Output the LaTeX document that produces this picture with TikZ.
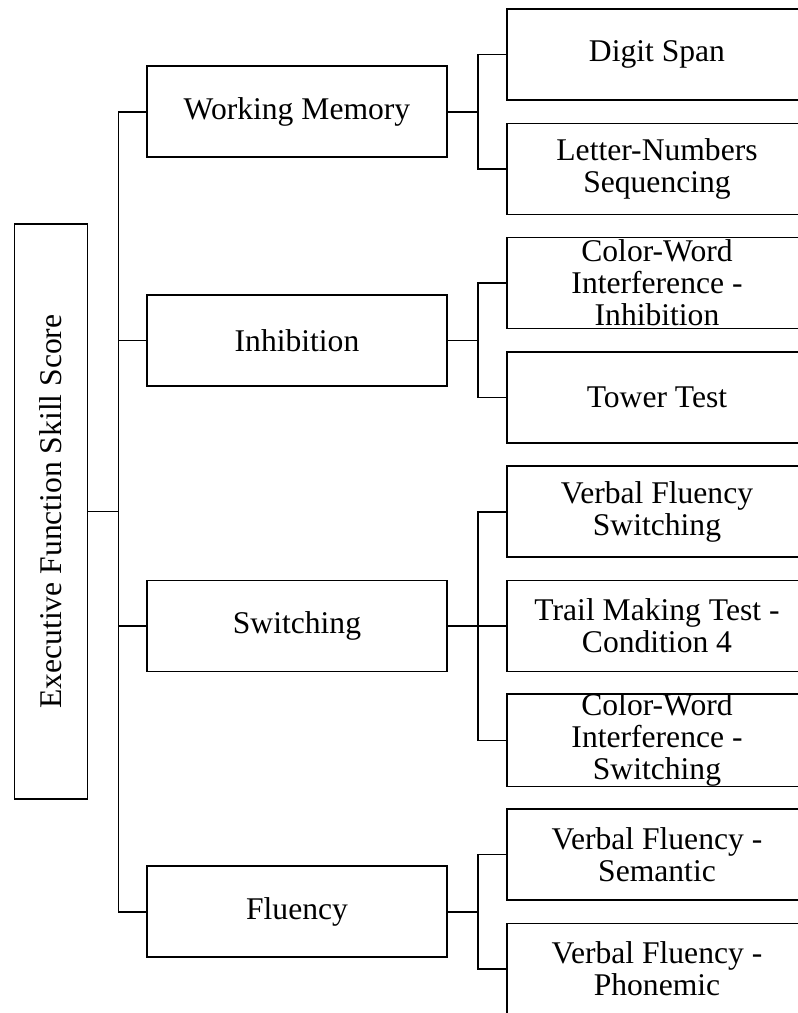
\documentclass[tikz,border=0pt]{standalone}
\usepackage{fontspec}
\setmainfont{Liberation Serif}
\usepackage{graphicx}
\usepackage{tikz}

\tikzset{
	skillbox/.style={draw, line width=1.6pt, rectangle, inner sep=0pt, align=center,
		font=\fontsize{31.6}{32}\selectfont},
	rootbox/.style={skillbox, minimum width=73pt, minimum height=575pt},
	areabox/.style={skillbox, minimum width=300pt, minimum height=91pt},
	testbox/.style={skillbox, minimum width=300pt, minimum height=91pt},
	link/.style={line width=1.6pt}
}

\begin{document}
\begin{tikzpicture}[x=1pt,y=-1pt]
		\useasboundingbox (0,0) rectangle (798,1013);
		\clip (0,0) rectangle (798,1013);
		%
		\node [rootbox] (efs) at (51,511.5) {\rotatebox{90}{Executive Function Skill Score}};
		%
		\node [areabox] (wm) at (297,111.7) {Working Memory};
		\node [areabox] (inh) at (297,340.3) {Inhibition};
		\node [areabox] (sw) at (297,626) {Switching};
		\node [areabox] (fl) at (297,911.7) {Fluency};
		%
		\foreach \name/\k/\txt in {ds/0/{Digit Span}, lns/1/{Letter-Numbers\\Sequencing},
			cwi/2/{Color-Word\\Interference -\\Inhibition}, tt/3/{Tower Test},
			vfs/4/{Verbal Fluency\\Switching}, tmt/5/{Trail Making Test -\\Condition 4},
			cws/6/{Color-Word\\Interference -\\Switching}, vfsem/7/{Verbal Fluency -\\Semantic},
			vfp/8/{Verbal Fluency -\\Phonemic}}
			\node [testbox] (\name) at (657,54.5+114.3*\k) {\txt};
		%
		\foreach \area in {wm,inh,sw,fl}
			\draw [link] (efs.east) -- ++(30,0) |- (\area.west);
		\foreach \area/\test in {wm/ds,wm/lns,inh/cwi,inh/tt,sw/vfs,sw/tmt,sw/cws,fl/vfsem,fl/vfp}
			\draw [link] (\area.east) -- ++(30,0) |- (\test.west);
	\end{tikzpicture}
\end{document}
